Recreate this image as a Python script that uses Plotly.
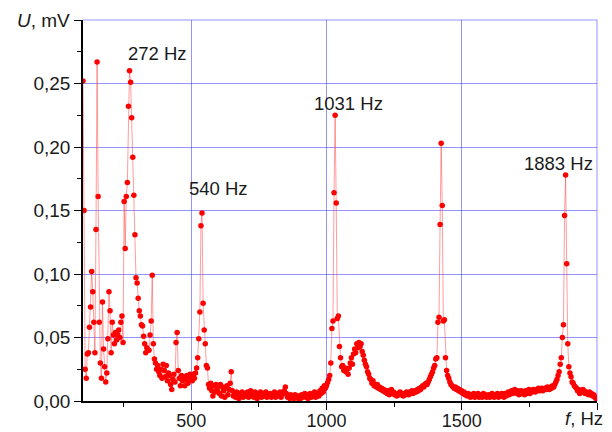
import plotly.graph_objects as go

# Frequency grid (Hz): FFT bins, 4 Hz apart, 100 ... 2000
F_START = 100
F_STEP = 4

# Amplitude U (mV), in 100 Hz blocks (25 bins each)
u_100 = [0.252, 0.150, 0.025, 0.018, 0.037, 0.038, 0.058, 0.074, 0.102, 0.086,
         0.062, 0.038, 0.135, 0.267, 0.161, 0.062, 0.030, 0.018, 0.078, 0.041,
         0.027, 0.015, 0.022, 0.049, 0.086]
u_200 = [0.071, 0.038, 0.062, 0.052, 0.045, 0.054, 0.048, 0.052, 0.056, 0.050,
         0.062, 0.067, 0.046, 0.157, 0.120, 0.161, 0.172, 0.232, 0.260, 0.251,
         0.223, 0.192, 0.162, 0.131, 0.097]
u_300 = [0.093, 0.081, 0.071, 0.067, 0.060, 0.059, 0.051, 0.045, 0.038, 0.042,
         0.040, 0.040, 0.052, 0.063, 0.099, 0.045, 0.033, 0.030, 0.025, 0.028,
         0.023, 0.020, 0.025, 0.018, 0.029]
u_400 = [0.024, 0.019, 0.028, 0.016, 0.022, 0.020, 0.013, 0.009, 0.017, 0.021,
         0.015, 0.046, 0.054, 0.024, 0.018, 0.012, 0.020, 0.016, 0.019, 0.012,
         0.017, 0.020, 0.014, 0.018, 0.021]
u_500 = [0.019, 0.016, 0.021, 0.018, 0.022, 0.026, 0.034, 0.049, 0.070, 0.138,
         0.148, 0.077, 0.056, 0.045, 0.028, 0.026, 0.013, 0.010, 0.014, 0.008,
         0.004, 0.012, 0.007, 0.013, 0.009]
u_600 = [0.012, 0.006, 0.013, 0.004, 0.011, 0.008, 0.003, 0.010, 0.012, 0.005,
         0.009, 0.014, 0.023, 0.008, 0.004, 0.006, 0.003, 0.007, 0.005, 0.002,
         0.006, 0.004, 0.007, 0.003, 0.005]
u_700 = [0.006, 0.004, 0.007, 0.003, 0.005, 0.008, 0.004, 0.006, 0.003, 0.007,
         0.005, 0.002, 0.006, 0.004, 0.007, 0.003, 0.005, 0.006, 0.004, 0.007,
         0.003, 0.005, 0.004, 0.006, 0.003]
u_800 = [0.005, 0.004, 0.007, 0.003, 0.006, 0.005, 0.004, 0.007, 0.003, 0.005,
         0.006, 0.008, 0.011, 0.006, 0.003, 0.004, 0.002, 0.005, 0.003, 0.004,
         0.002, 0.005, 0.003, 0.004, 0.002]
u_900 = [0.004, 0.002, 0.005, 0.003, 0.004, 0.006, 0.003, 0.005, 0.002, 0.004,
         0.006, 0.003, 0.005, 0.004, 0.007, 0.003, 0.005, 0.006, 0.004, 0.008,
         0.006, 0.010, 0.007, 0.012, 0.010]
u_1000 = [0.012, 0.0145, 0.017, 0.020, 0.030, 0.057, 0.063, 0.164, 0.225, 0.156,
          0.065, 0.067, 0.043, 0.034, 0.027, 0.028, 0.024, 0.026, 0.023, 0.025,
          0.021, 0.026, 0.030, 0.034, 0.029]
u_1100 = [0.037, 0.041, 0.038, 0.045, 0.042, 0.046, 0.043, 0.045, 0.039, 0.036,
          0.032, 0.029, 0.027, 0.023, 0.021, 0.018, 0.017, 0.014, 0.016, 0.012,
          0.013, 0.011, 0.013, 0.010, 0.011]
u_1200 = [0.009, 0.010, 0.008, 0.009, 0.007, 0.008, 0.006, 0.008, 0.005, 0.007,
          0.009, 0.006, 0.007, 0.005, 0.006, 0.004, 0.006, 0.005, 0.007, 0.005,
          0.006, 0.004, 0.006, 0.005, 0.007]
u_1300 = [0.006, 0.005, 0.007, 0.006, 0.008, 0.006, 0.007, 0.008, 0.007, 0.009,
          0.008, 0.010, 0.009, 0.011, 0.012, 0.011, 0.013, 0.014, 0.013, 0.015,
          0.017, 0.019, 0.021, 0.023, 0.026]
u_1400 = [0.028, 0.033, 0.034, 0.062, 0.066, 0.139, 0.203, 0.154, 0.063, 0.064,
          0.034, 0.024, 0.020, 0.018, 0.015, 0.013, 0.012, 0.011, 0.010, 0.011,
          0.009, 0.010, 0.008, 0.009, 0.007]
u_1500 = [0.008, 0.006, 0.007, 0.005, 0.006, 0.004, 0.006, 0.005, 0.003, 0.005,
          0.004, 0.006, 0.003, 0.005, 0.004, 0.006, 0.003, 0.004, 0.005, 0.003,
          0.006, 0.004, 0.005, 0.003, 0.004]
u_1600 = [0.005, 0.003, 0.004, 0.006, 0.004, 0.003, 0.005, 0.004, 0.006, 0.003,
          0.005, 0.004, 0.006, 0.005, 0.003, 0.006, 0.004, 0.005, 0.007, 0.005,
          0.006, 0.008, 0.006, 0.007, 0.009]
u_1700 = [0.007, 0.006, 0.008, 0.005, 0.007, 0.008, 0.006, 0.007, 0.005, 0.008,
          0.006, 0.007, 0.009, 0.006, 0.008, 0.007, 0.009, 0.008, 0.007, 0.009,
          0.008, 0.010, 0.008, 0.009, 0.010]
u_1800 = [0.008, 0.009, 0.010, 0.009, 0.011, 0.010, 0.009, 0.011, 0.010, 0.012,
          0.011, 0.013, 0.015, 0.017, 0.020, 0.023, 0.029, 0.034, 0.050, 0.060,
          0.146, 0.178, 0.108, 0.045, 0.027]
u_1900 = [0.022, 0.019, 0.015, 0.014, 0.012, 0.011, 0.010, 0.008, 0.009, 0.006,
          0.008, 0.007, 0.009, 0.008, 0.006, 0.007, 0.006, 0.005, 0.007, 0.005,
          0.006, 0.004, 0.005, 0.003, 0.002, 0.003]

U = (u_100 + u_200 + u_300 + u_400 + u_500 + u_600 + u_700 + u_800 + u_900
     + u_1000 + u_1100 + u_1200 + u_1300 + u_1400 + u_1500 + u_1600 + u_1700
     + u_1800 + u_1900)
freq = [F_START + F_STEP * i for i in range(len(U))]

# Peak labels
peak_labels = ["272 Hz", "540 Hz", "1031 Hz", "1883 Hz"]
label_f = [374, 600, 1083, 1859]
label_u = [0.274, 0.167, 0.2344, 0.187]

x_ticks = [500, 1000, 1500, 2000]
x_ticktext = ["500", "1000", "1500", ""]
y_ticks = [0.00, 0.05, 0.10, 0.15, 0.20, 0.25, 0.30]
y_ticktext = ["0,00", "0,05", "0,10", "0,15", "0,20", "0,25", ""]

FONT = "Liberation Sans, Arial, sans-serif"
GRID = "rgba(60,60,255,0.55)"
TXT = "#1a1a1a"

fig = go.Figure()
fig.add_trace(go.Scatter(
    x=freq, y=U, mode="lines+markers",
    line=dict(color="rgba(255,60,60,0.5)", width=1),
    marker=dict(color="#ff0000", size=5.5, line=dict(width=0)),
    showlegend=False,
))

for txt, fx, uy in zip(peak_labels, label_f, label_u):
    fig.add_annotation(x=fx, y=uy, text=txt, showarrow=False,
                       font=dict(family=FONT, size=18.5, color=TXT))

fig.add_annotation(xref="paper", yref="paper", x=-0.021, y=1.0,
                   xanchor="right", yanchor="middle", text="<i>U</i>, mV",
                   showarrow=False, font=dict(family=FONT, size=19, color=TXT))
fig.add_annotation(xref="paper", yref="paper", x=0.934, y=-0.045,
                   xanchor="left", yanchor="middle", text="<i>f</i>, Hz",
                   showarrow=False, font=dict(family=FONT, size=18.5, color=TXT))

# blue frame on the top and right sides of the plotting area
fig.add_shape(type="line", xref="paper", yref="paper", x0=0, x1=1, y0=1, y1=1,
              line=dict(color=GRID, width=1), layer="below")
fig.add_shape(type="line", xref="paper", yref="paper", x0=1, x1=1, y0=0, y1=1,
              line=dict(color=GRID, width=1), layer="below")

fig.update_layout(
    width=612, height=432, autosize=False,
    margin=dict(l=83, r=15, t=20, b=31),
    paper_bgcolor="white", plot_bgcolor="white",
    font=dict(family=FONT, size=19, color=TXT),
)
fig.update_xaxes(
    range=[100, 2000], tickvals=x_ticks, ticktext=x_ticktext,
    tickfont=dict(size=18),
    showgrid=True, gridcolor=GRID, gridwidth=1,
    showline=True, linecolor="black", linewidth=1.5,
    ticks="outside", ticklen=7, tickcolor="black", tickwidth=1.2,
    ticklabelstandoff=-4,
    minor=dict(tickvals=[250, 750, 1250, 1750], ticks="outside", ticklen=4,
               tickcolor="black", showgrid=False),
    zeroline=False, automargin=False,
)
fig.update_yaxes(
    range=[0, 0.30], tickvals=y_ticks, ticktext=y_ticktext,
    showgrid=True, gridcolor=GRID, gridwidth=1,
    showline=True, linecolor="black", linewidth=1.5,
    ticks="outside", ticklen=7, tickcolor="black", tickwidth=1.2,
    minor=dict(tickvals=[0.025, 0.075, 0.125, 0.175, 0.225, 0.275], ticks="outside",
               ticklen=4, tickcolor="black", showgrid=False),
    zeroline=False, automargin=False,
)

fig.write_html(
    "out.html",
    config={"responsive": False, "displayModeBar": False},
    post_script="document.body.style.margin='0';document.body.style.overflow='hidden';",
)
